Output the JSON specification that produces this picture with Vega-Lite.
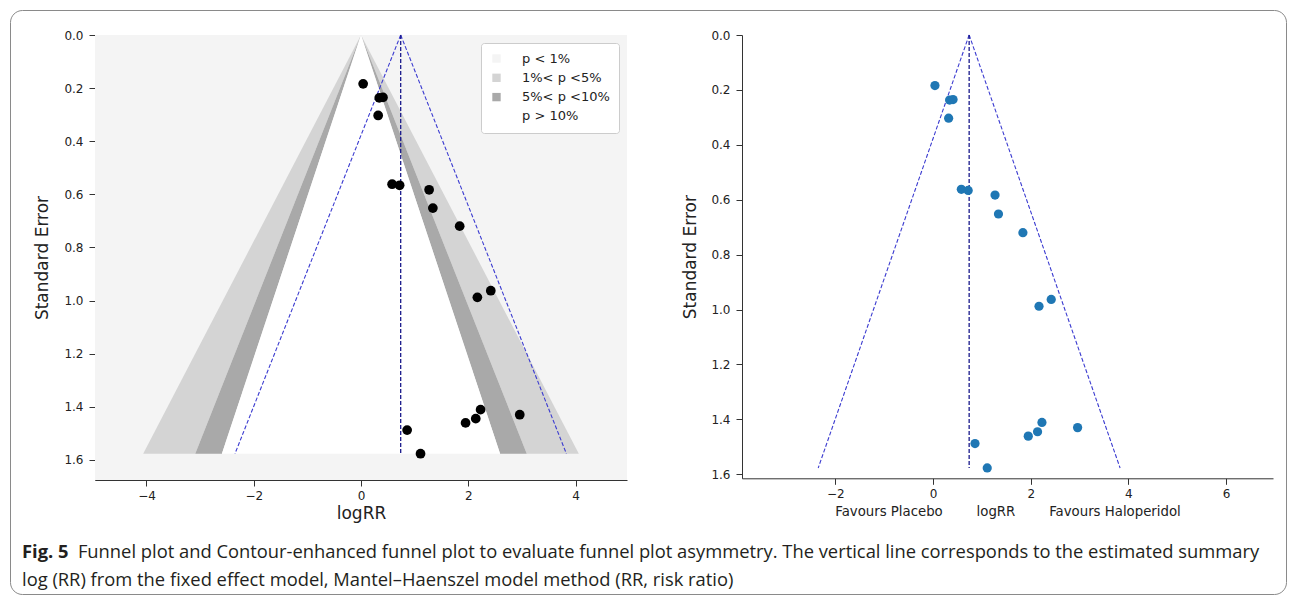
{
  "$schema": "https://vega.github.io/schema/vega-lite/v6.json",
  "width": 1276,
  "height": 584,
  "autosize": {"type": "none"},
  "padding": {"left": 10, "top": 10, "right": 9, "bottom": 3},
  "background": "white",
  "config": {
    "view": {"stroke": "#8a8a8a", "cornerRadius": 12, "strokeWidth": 1},
    "font": "DejaVu Sans",
    "axis": {
      "grid": false,
      "labelFont": "DejaVu Sans",
      "titleFont": "DejaVu Sans",
      "labelColor": "#222222",
      "titleColor": "#222222",
      "domainColor": "#333333",
      "tickColor": "#333333",
      "labelFontSize": 12,
      "titleFontWeight": "normal",
      "tickSize": 6
    }
  },
  "title": {
    "text": [
      "\u2800\u00a0\u00a0\u00a0\u00a0\u00a0\u00a0\u00a0\u00a0\u00a0Funnel plot and Contour-enhanced funnel plot to evaluate funnel plot asymmetry. The vertical line corresponds to the estimated summary",
      "log (RR) from the fixed effect model, Mantel–Haenszel model method (RR, risk ratio)"
    ],
    "subtitle": "Fig. 5",
    "orient": "bottom",
    "anchor": "start",
    "frame": "group",
    "offset": -50,
    "dx": 12,
    "font": "Open Sans",
    "fontSize": 18.35,
    "fontWeight": "normal",
    "color": "#231f20",
    "lineHeight": 28,
    "subtitleFont": "Open Sans",
    "subtitleFontSize": 18.35,
    "subtitleFontWeight": "bold",
    "subtitleColor": "#231f20",
    "subtitlePadding": -46.35
  },
  "datasets": {
    "studies": [
      {"logRR": 0.04, "se": 0.184},
      {"logRR": 0.34, "se": 0.237},
      {"logRR": 0.41, "se": 0.235},
      {"logRR": 0.32, "se": 0.303},
      {"logRR": 0.58, "se": 0.562},
      {"logRR": 0.72, "se": 0.566},
      {"logRR": 1.27, "se": 0.583},
      {"logRR": 1.34, "se": 0.652},
      {"logRR": 1.84, "se": 0.72},
      {"logRR": 2.17, "se": 0.988},
      {"logRR": 2.42, "se": 0.963},
      {"logRR": 2.23, "se": 1.411},
      {"logRR": 2.14, "se": 1.445},
      {"logRR": 1.95, "se": 1.461},
      {"logRR": 2.96, "se": 1.43},
      {"logRR": 0.86, "se": 1.488},
      {"logRR": 1.11, "se": 1.577}
    ],
    "contours": [
      {"band": "1%< p <5%", "piece": "L1", "se": 0, "lo": 0, "hi": 0},
      {"band": "1%< p <5%", "piece": "L1", "se": 1.577, "lo": -4.062, "hi": -3.091},
      {"band": "1%< p <5%", "piece": "R1", "se": 0, "lo": 0, "hi": 0},
      {"band": "1%< p <5%", "piece": "R1", "se": 1.577, "lo": 3.091, "hi": 4.062},
      {"band": "5%< p <10%", "piece": "L2", "se": 0, "lo": 0, "hi": 0},
      {"band": "5%< p <10%", "piece": "L2", "se": 1.577, "lo": -3.091, "hi": -2.594},
      {"band": "5%< p <10%", "piece": "R2", "se": 0, "lo": 0, "hi": 0},
      {"band": "5%< p <10%", "piece": "R2", "se": 1.577, "lo": 2.594, "hi": 3.091},
      {"band": "p > 10%", "piece": "C", "se": 0, "lo": 0, "hi": 0},
      {"band": "p > 10%", "piece": "C", "se": 1.577, "lo": -2.594, "hi": 2.594}
    ],
    "funnel": [
      {"kind": "center", "x": 0.74, "y": 0, "x2": 0.74, "y2": 1.577},
      {"kind": "ci", "x": 0.74, "y": 0, "x2": -2.35, "y2": 1.577},
      {"kind": "ci", "x": 0.74, "y": 0, "x2": 3.83, "y2": 1.577}
    ]
  },
  "layer": [
    {
      "layer": [
        {
          "data": {"values": [{"p": "p < 1%"}]},
          "mark": {"type": "rect", "fill": "#f4f4f4"},
          "encoding": {
            "x": {
              "datum": -4.96,
              "type": "quantitative",
              "scale": {"domain": [-4.96, 4.96], "range": [85, 617], "nice": false, "zero": false},
              "axis": {
                "orient": "bottom",
                "offset": -114,
                "values": [-4, -2, 0, 2, 4],
                "format": "d",
                "title": "logRR",
                "titleFontSize": 17,
                "titlePadding": 4,
                "labelPadding": 4
              }
            },
            "x2": {"datum": 4.96},
            "y": {
              "datum": 0,
              "type": "quantitative",
              "scale": {"domain": [0, 1.676], "range": [25, 470], "nice": false, "zero": false},
              "axis": {
                "orient": "left",
                "offset": -85,
                "values": [0, 0.2, 0.4, 0.6, 0.8, 1.0, 1.2, 1.4, 1.6],
                "format": ".1f",
                "title": "Standard Error",
                "titleFontSize": 17,
                "titlePadding": 12,
                "labelPadding": 6
              }
            },
            "y2": {"datum": 1.676}
          }
        },
        {
          "data": {"name": "contours"},
          "mark": {"type": "area", "orient": "horizontal", "opacity": 1},
          "encoding": {
            "y": {"field": "se", "type": "quantitative"},
            "x": {"field": "lo", "type": "quantitative", "stack": null},
            "x2": {"field": "hi"},
            "detail": {"field": "piece"},
            "color": {
              "field": "band",
              "type": "nominal",
              "scale": {
                "domain": ["p < 1%", "1%< p <5%", "5%< p <10%", "p > 10%"],
                "range": ["#f4f4f4", "#d4d4d4", "#a9a9a9", "#ffffff"]
              },
              "legend": {
                "orient": "none",
                "legendX": 471,
                "legendY": 33,
                "title": null,
                "symbolType": "square",
                "symbolSize": 70,
                "symbolStrokeWidth": 0,
                "labelFont": "DejaVu Sans",
                "labelFontSize": 13,
                "labelColor": "#222222",
                "labelOffset": 19,
                "fillColor": "white",
                "strokeColor": "#cccccc",
                "cornerRadius": 3,
                "padding": 9,
                "rowPadding": 5.3
              }
            }
          }
        },
        {
          "data": {"name": "funnel"},
          "transform": [{"filter": "datum.kind === 'ci'"}],
          "mark": {"type": "rule", "color": "#3b3bd0", "strokeWidth": 1.1, "strokeDash": [4, 2]},
          "encoding": {
            "x": {"field": "x", "type": "quantitative"},
            "y": {"field": "y", "type": "quantitative"},
            "x2": {"field": "x2"},
            "y2": {"field": "y2"}
          }
        },
        {
          "data": {"name": "funnel"},
          "transform": [{"filter": "datum.kind === 'center'"}],
          "mark": {"type": "rule", "color": "#1a1a8c", "strokeWidth": 1.3, "strokeDash": [4, 2]},
          "encoding": {
            "x": {"field": "x", "type": "quantitative"},
            "y": {"field": "y", "type": "quantitative"},
            "x2": {"field": "x2"},
            "y2": {"field": "y2"}
          }
        },
        {
          "data": {"name": "studies"},
          "mark": {"type": "circle", "size": 95, "color": "black", "opacity": 1},
          "encoding": {
            "x": {"field": "logRR", "type": "quantitative"},
            "y": {"field": "se", "type": "quantitative"}
          }
        }
      ]
    },
    {
      "layer": [
        {
          "data": {"name": "funnel"},
          "transform": [{"filter": "datum.kind === 'ci'"}],
          "mark": {"type": "rule", "color": "#3b3bd0", "strokeWidth": 1.1, "strokeDash": [4, 2]},
          "encoding": {
            "x": {
              "field": "x",
              "type": "quantitative",
              "scale": {"domain": [-3.91, 6.96], "range": [732, 1263], "nice": false, "zero": false},
              "axis": {
                "orient": "bottom",
                "offset": -115.7,
                "values": [-2, 0, 2, 4, 6],
                "format": "d",
                "title": "Favours Placebo\u00a0\u00a0\u00a0\u00a0\u00a0\u00a0\u00a0\u00a0logRR\u00a0\u00a0\u00a0\u00a0\u00a0\u00a0\u00a0\u00a0Favours Haloperidol",
                "titleFontSize": 13.3,
                "titlePadding": 5,
                "labelPadding": 4
              }
            },
            "y": {
              "field": "y",
              "type": "quantitative",
              "scale": {"domain": [0, 1.6146], "range": [25, 468.3], "nice": false, "zero": false},
              "axis": {
                "orient": "left",
                "offset": -732,
                "values": [0, 0.2, 0.4, 0.6, 0.8, 1.0, 1.2, 1.4, 1.6],
                "format": ".1f",
                "title": "Standard Error",
                "titleFontSize": 17,
                "titlePadding": 11,
                "labelPadding": 6
              }
            },
            "x2": {"field": "x2"},
            "y2": {"field": "y2"}
          }
        },
        {
          "data": {"name": "funnel"},
          "transform": [{"filter": "datum.kind === 'center'"}],
          "mark": {"type": "rule", "color": "#1a1a8c", "strokeWidth": 1.3, "strokeDash": [4, 2]},
          "encoding": {
            "x": {"field": "x", "type": "quantitative"},
            "y": {"field": "y", "type": "quantitative"},
            "x2": {"field": "x2"},
            "y2": {"field": "y2"}
          }
        },
        {
          "data": {"name": "studies"},
          "mark": {"type": "circle", "size": 85, "color": "#1f77b4", "opacity": 1},
          "encoding": {
            "x": {"field": "logRR", "type": "quantitative"},
            "y": {"field": "se", "type": "quantitative"}
          }
        }
      ]
    }
  ],
  "resolve": {
    "scale": {"x": "independent", "y": "independent", "color": "independent"},
    "axis": {"x": "independent", "y": "independent"}
  }
}
